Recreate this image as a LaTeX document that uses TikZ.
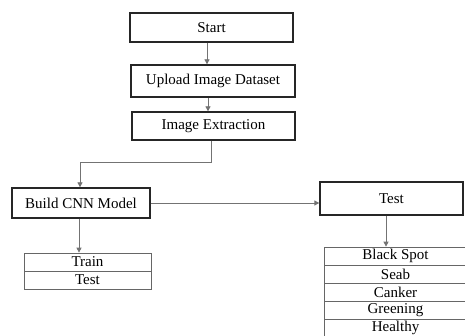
\documentclass[tikz,border=0pt]{standalone}
\usepackage{fontspec}
\setmainfont{Liberation Serif}
\usetikzlibrary{arrows.meta}
\begin{document}
\begin{tikzpicture}[x=1pt,y=-1pt,
  box/.style={draw=black!85,line width=1.3pt,inner sep=0pt,font=\fontsize{15}{17}\selectfont},
  cell/.style={draw=black!60,line width=0.7pt,inner sep=0pt,minimum height=18pt,font=\fontsize{15}{17}\selectfont},
  arr/.style={draw=black!55,line width=0.8pt,-{Triangle[width=5pt,length=5pt]}}]
\useasboundingbox (0,0) rectangle (465,336);
\clip (0,0) rectangle (465,336);
\node[box,minimum width=163pt,minimum height=29pt] (start) at (211.5,27.5) {Start};
\node[box,minimum width=164pt,minimum height=32pt] (upload) at (213,81) {Upload Image Dataset};
\node[box,minimum width=163pt,minimum height=28pt] (extr) at (213.5,126) {Image Extraction};
\node[box,minimum width=138pt,minimum height=30pt] (cnn) at (81,203) {Build CNN Model};
\node[box,minimum width=143pt,minimum height=33pt] (test) at (391.5,198.5) {Test};
\node[cell,minimum width=127pt] (train) at (87.5,262) {Train};
\node[cell,minimum width=127pt] (ttest) at (87.5,280) {Test};
\node[cell,minimum width=143pt] (c1) at (395.5,256) {Black Spot};
\node[cell,minimum width=143pt] (c2) at (395.5,274) {Seab};
\node[cell,minimum width=143pt] (c3) at (395.5,292) {Canker};
\node[cell,minimum width=143pt] (c4) at (395.5,310) {Greening};
\node[cell,minimum width=143pt] (c5) at (395.5,328) {Healthy};
\coordinate (bend) at ([xshift=-2.5pt]extr.south);
\draw[arr] ([xshift=-4.5pt]start.south) -- ([xshift=-4.5pt]start.south |- upload.north);
\draw[arr] ([xshift=-5pt]upload.south) -- ([xshift=-5pt]upload.south |- extr.north);
\draw[arr] (bend) -- ++(0,22) -| ([xshift=-1pt]cnn.north);
\draw[arr] (cnn.east) -- (cnn.east -| test.west);
\draw[arr] ([xshift=-2pt]cnn.south) -- ([xshift=-2pt]cnn.south |- train.north);
\draw[arr] ([xshift=-5.5pt]test.south) -- ([xshift=-5.5pt]test.south |- c1.north);
\end{tikzpicture}
\end{document}
